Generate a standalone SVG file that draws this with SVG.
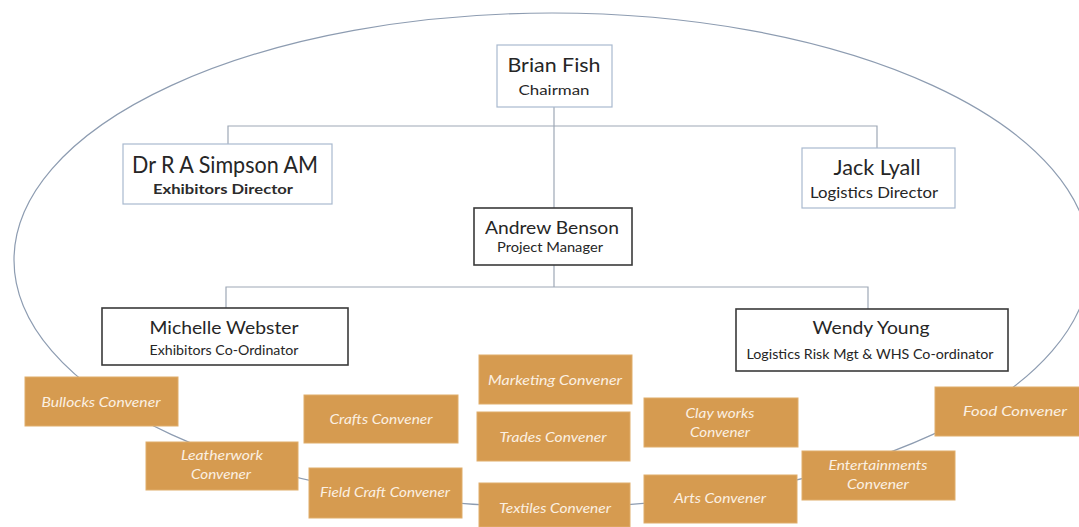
<svg xmlns="http://www.w3.org/2000/svg" width="1079" height="527" viewBox="0 0 1079 527">
<style>
.bg{fill:#ffffff}
.ring{fill:none;stroke:#8d9cb1;stroke-width:1.2}
.conn{fill:none;stroke:#9ea8b6;stroke-width:1.2}
.lite{fill:#ffffff;stroke:#a9b9cf;stroke-width:1.2}
.dark{fill:#ffffff;stroke:#3a3a3a;stroke-width:1.6}
.org{fill:#d69b50;stroke:#e0ad6a;stroke-width:1}
.nm{font-family:Lato,"Liberation Sans",sans-serif;fill:#262626;text-anchor:middle}
.rl{font-family:Lato,"Liberation Sans",sans-serif;fill:#2b2b2b;text-anchor:middle;font-weight:bold}
.ot{font-family:Lato,"Liberation Sans",sans-serif;fill:#fbf0e2;text-anchor:middle;font-style:italic;font-size:13px}
</style>
<rect class="bg" x="0" y="0" width="1079" height="527"/>
<g id="boundary">
<ellipse class="ring" cx="552" cy="260" rx="538" ry="247"/>
</g>
<g id="connectors">
<path class="conn" d="M554,107 V208 M554,265 V287"/>
<path class="conn" d="M228,146 V126 H877 V148"/>
<path class="conn" d="M226,309 V287 H868 V309"/>
</g>
<g id="brian">
<rect class="lite" x="497" y="45" width="115" height="62"/>
<text class="nm" x="554" y="72" font-size="20" textLength="93" lengthAdjust="spacingAndGlyphs">Brian Fish</text>
<text class="nm" x="554" y="95" font-size="14" textLength="71" lengthAdjust="spacingAndGlyphs">Chairman</text>
</g>
<g id="simpson">
<rect class="lite" x="123" y="144" width="209" height="60"/>
<text class="nm" x="225" y="173" font-size="23" textLength="186" lengthAdjust="spacingAndGlyphs">Dr R A Simpson AM</text>
<text class="rl" x="223" y="194" font-size="13" textLength="140" lengthAdjust="spacingAndGlyphs">Exhibitors Director</text>
</g>
<g id="jack">
<rect class="lite" x="802" y="148" width="153" height="60"/>
<text class="nm" x="877" y="175" font-size="21" textLength="87" lengthAdjust="spacingAndGlyphs">Jack Lyall</text>
<text class="nm" x="874" y="198" font-size="15" textLength="128" lengthAdjust="spacingAndGlyphs">Logistics Director</text>
</g>
<g id="andrew">
<rect class="dark" x="474" y="208" width="158" height="57"/>
<text class="nm" x="552" y="234" font-size="18" textLength="134" lengthAdjust="spacingAndGlyphs">Andrew Benson</text>
<text class="nm" x="550" y="252" font-size="13" textLength="106" lengthAdjust="spacingAndGlyphs">Project Manager</text>
</g>
<g id="michelle">
<rect class="dark" x="102" y="308" width="246" height="57"/>
<text class="nm" x="224" y="334" font-size="18" textLength="149" lengthAdjust="spacingAndGlyphs">Michelle Webster</text>
<text class="nm" x="224" y="355" font-size="13" textLength="149" lengthAdjust="spacingAndGlyphs">Exhibitors Co-Ordinator</text>
</g>
<g id="wendy">
<rect class="dark" x="736" y="309" width="272" height="62"/>
<text class="nm" x="871" y="334" font-size="18" textLength="117" lengthAdjust="spacingAndGlyphs">Wendy Young</text>
<text class="nm" x="870" y="359" font-size="12.5" textLength="247" lengthAdjust="spacingAndGlyphs">Logistics Risk Mgt &amp; WHS Co-ordinator</text>
</g>
<g id="bullocks">
<rect class="org" x="25" y="377" width="153" height="49"/>
<text class="ot" x="101" y="407" textLength="119" lengthAdjust="spacingAndGlyphs">Bullocks Convener</text>
</g>
<g id="leatherwork">
<rect class="org" x="146" y="442" width="152" height="48"/>
<text class="ot" x="222" y="460" textLength="82" lengthAdjust="spacingAndGlyphs">Leatherwork</text>
<text class="ot" x="221" y="479" textLength="60" lengthAdjust="spacingAndGlyphs">Convener</text>
</g>
<g id="crafts">
<rect class="org" x="304" y="395" width="154" height="48"/>
<text class="ot" x="381" y="424" textLength="103" lengthAdjust="spacingAndGlyphs">Crafts Convener</text>
</g>
<g id="fieldcraft">
<rect class="org" x="309" y="468" width="153" height="50"/>
<text class="ot" x="385" y="497" textLength="130" lengthAdjust="spacingAndGlyphs">Field Craft Convener</text>
</g>
<g id="marketing">
<rect class="org" x="479" y="355" width="153" height="49"/>
<text class="ot" x="555" y="385" textLength="134" lengthAdjust="spacingAndGlyphs">Marketing Convener</text>
</g>
<g id="trades">
<rect class="org" x="477" y="412" width="153" height="49"/>
<text class="ot" x="553" y="442" textLength="107" lengthAdjust="spacingAndGlyphs">Trades Convener</text>
</g>
<g id="textiles">
<rect class="org" x="479" y="483" width="151" height="44"/>
<text class="ot" x="555" y="513" textLength="112" lengthAdjust="spacingAndGlyphs">Textiles Convener</text>
</g>
<g id="clayworks">
<rect class="org" x="644" y="398" width="154" height="49"/>
<text class="ot" x="720" y="418" textLength="69" lengthAdjust="spacingAndGlyphs">Clay works</text>
<text class="ot" x="720" y="437" textLength="60" lengthAdjust="spacingAndGlyphs">Convener</text>
</g>
<g id="arts">
<rect class="org" x="644" y="475" width="153" height="48"/>
<text class="ot" x="720" y="503" textLength="92" lengthAdjust="spacingAndGlyphs">Arts Convener</text>
</g>
<g id="entertainments">
<rect class="org" x="802" y="451" width="153" height="49"/>
<text class="ot" x="878" y="470" textLength="99" lengthAdjust="spacingAndGlyphs">Entertainments</text>
<text class="ot" x="878" y="489" textLength="62" lengthAdjust="spacingAndGlyphs">Convener</text>
</g>
<g id="food">
<rect class="org" x="935" y="387" width="150" height="49"/>
<text class="ot" x="1015" y="416" textLength="104" lengthAdjust="spacingAndGlyphs">Food Convener</text>
</g>
</svg>
